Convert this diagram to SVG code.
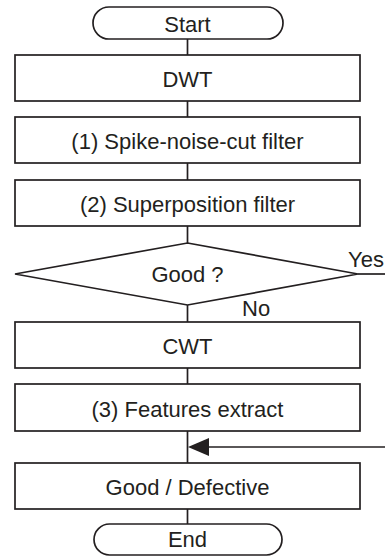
<svg xmlns="http://www.w3.org/2000/svg" width="385" height="557" viewBox="0 0 385 557">
<defs>
<style>
.s{fill:#fff;stroke:#231f20;stroke-width:1.7}
.c{fill:none;stroke:#231f20;stroke-width:1.7}
text{font-family:"Liberation Sans",Arial,sans-serif;font-size:22px;fill:#231f20}
.m{text-anchor:middle}
</style>
</defs>
<rect width="385" height="557" fill="#fff"/>
<g id="connectors">
<line class="c" x1="187.5" y1="39" x2="187.5" y2="55"/>
<line class="c" x1="187.5" y1="101" x2="187.5" y2="117"/>
<line class="c" x1="187.5" y1="163" x2="187.5" y2="180"/>
<line class="c" x1="187.5" y1="226" x2="187.5" y2="243"/>
<line class="c" x1="358" y1="274" x2="385" y2="274"/>
<line class="c" x1="187.5" y1="305" x2="187.5" y2="322"/>
<line class="c" x1="187.5" y1="368" x2="187.5" y2="384"/>
<line class="c" x1="187.5" y1="431" x2="187.5" y2="463"/>
<line class="c" x1="385" y1="447" x2="205" y2="447"/>
<polygon points="188,447 209,438 209,456" fill="#231f20"/>
<line class="c" x1="187.5" y1="509" x2="187.5" y2="524"/>
<text x="348" y="267">Yes</text>
<text x="242" y="316">No</text>
</g>
<g id="start">
<rect class="s" x="93" y="7" width="190" height="32" rx="16"/>
<text class="m" x="187.5" y="31.5">Start</text>
</g>
<g id="dwt">
<rect class="s" x="15" y="55" width="345" height="46"/>
<text class="m" x="187.5" y="87">DWT</text>
</g>
<g id="spike">
<rect class="s" x="15" y="117" width="345" height="46"/>
<text class="m" x="187.5" y="149">(1) Spike-noise-cut filter</text>
</g>
<g id="superposition">
<rect class="s" x="15" y="180" width="345" height="46"/>
<text class="m" x="187.5" y="212">(2) Superposition filter</text>
</g>
<g id="good">
<polygon class="s" points="187.5,243 358,274 187.5,305 15,274"/>
<text class="m" x="187.5" y="282">Good ?</text>
</g>
<g id="cwt">
<rect class="s" x="15" y="322" width="345" height="46"/>
<text class="m" x="187.5" y="354">CWT</text>
</g>
<g id="features">
<rect class="s" x="15" y="384" width="345" height="47"/>
<text class="m" x="187.5" y="417">(3) Features extract</text>
</g>
<g id="gooddefective">
<rect class="s" x="15" y="463" width="345" height="46"/>
<text class="m" x="187.5" y="495">Good / Defective</text>
</g>
<g id="end">
<rect class="s" x="94" y="524" width="188" height="31" rx="15.5"/>
<text class="m" x="187.5" y="547">End</text>
</g>
</svg>
